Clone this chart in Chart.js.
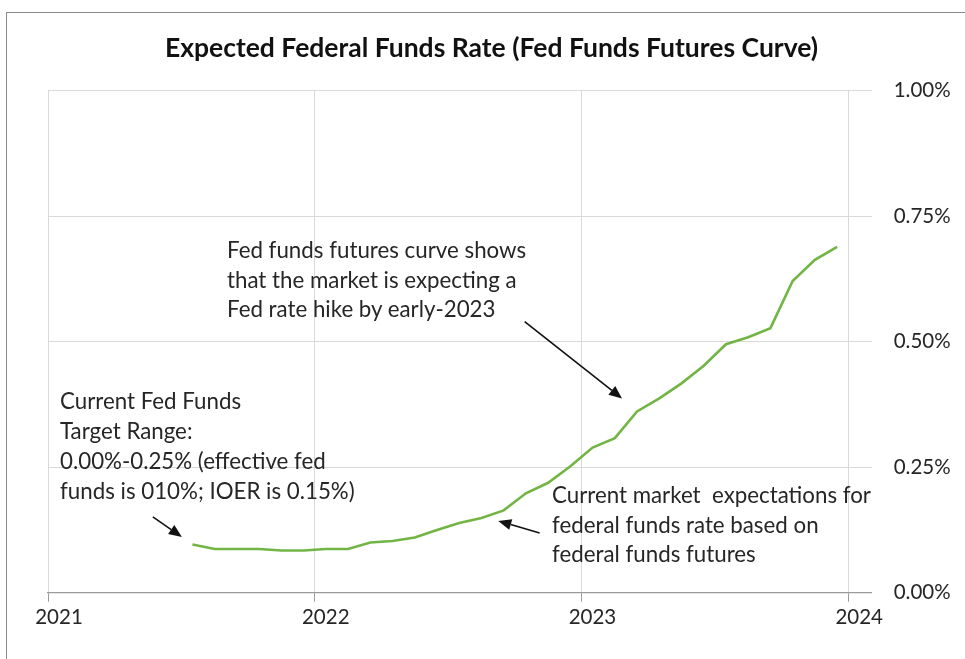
<!DOCTYPE html>
<html>
<head>
<meta charset="utf-8">
<script src="https://cdn.jsdelivr.net/npm/chart.js@4/dist/chart.umd.min.js"></script>
<style>
  html, body { margin: 0; padding: 0; background: #fff; overflow: hidden; width: 965px; height: 659px; }
  #wrap { position: relative; width: 965px; height: 659px; overflow: hidden; }
  #frame { position: absolute; left: 6px; top: 12px; width: 1300px; height: 1000px;
           border-left: 1.5px solid #8a8a8a; border-top: 1.5px solid #8a8a8a; }
  #c { position: absolute; left: 0; top: 0; }
  .t { position: absolute; font-family: Lato, "Open Sans", sans-serif; color: #262626; white-space: nowrap; }
  #title { left: 0; width: 983px; text-align: center; top: 29px; font-size: 26.5px; font-weight: 700; color: #111; line-height: 36px; }
  .note { font-size: 22.3px; line-height: 29.5px; }
</style>
</head>
<body>
<div id="wrap">
  <div id="frame"></div>
  <canvas id="c" width="965" height="659"></canvas>
  <div class="t" id="title">Expected Federal Funds Rate (Fed Funds Futures Curve)</div>
  <div class="t note" style="left:60px; top:386px; line-height:30px;">Current Fed Funds<br>Target Range:<br>0.00%-0.25% (effective fed<br>funds is 010%; IOER is 0.15%)</div>
  <div class="t note" style="left:552px; top:480px;">Current market&nbsp; expectations for<br>federal funds rate based on<br>federal funds futures</div>
  <div class="t note" style="left:227px; top:235px;">Fed funds futures curve shows<br>that the market is expecting a<br>Fed rate hike by early-2023</div>
</div>
<script>
// ---- data ----
const months = [
  '2021-07','2021-08','2021-09','2021-10','2021-11','2021-12',
  '2022-01','2022-02','2022-03','2022-04','2022-05','2022-06',
  '2022-07','2022-08','2022-09','2022-10','2022-11','2022-12',
  '2023-01','2023-02','2023-03','2023-04','2023-05','2023-06',
  '2023-07','2023-08','2023-09','2023-10','2023-11','2023-12'
];
const expectedRate = [
  0.096, 0.087, 0.087, 0.087, 0.084, 0.084,
  0.087, 0.087, 0.100, 0.103, 0.110, 0.125,
  0.139, 0.149, 0.164, 0.198, 0.219, 0.252,
  0.289, 0.308, 0.361, 0.387, 0.417, 0.452,
  0.495, 0.509, 0.527, 0.621, 0.663, 0.689
];
const yearTicks = [2021, 2022, 2023, 2024];
const rateTicks = [0, 0.25, 0.5, 0.75, 1.0];

// annotation arrows, given in data coordinates (year, %)
const arrows = [
  { from: [2021.393, 0.151], to: [2021.502, 0.111] },
  { from: [2022.843, 0.119], to: [2022.688, 0.143] },
  { from: [2022.787, 0.540], to: [2023.152, 0.387] }
];

function toYear(m) {
  const [y, mo] = m.split('-').map(Number);
  return y + (mo - 0.5) / 12;
}

const arrowPlugin = {
  id: 'arrows',
  afterDatasetsDraw(chart) {
    const { ctx, scales: { x, y } } = chart;
    ctx.save();
    ctx.strokeStyle = '#111';
    ctx.fillStyle = '#111';
    ctx.lineWidth = 1.6;
    arrows.forEach(a => {
      const x1 = x.getPixelForValue(a.from[0]), y1 = y.getPixelForValue(a.from[1]);
      const x2 = x.getPixelForValue(a.to[0]), y2 = y.getPixelForValue(a.to[1]);
      const ang = Math.atan2(y2 - y1, x2 - x1);
      const L = 13, W = 5.5;
      const bx = x2 - L * Math.cos(ang), by = y2 - L * Math.sin(ang);
      ctx.beginPath();
      ctx.moveTo(x1, y1);
      ctx.lineTo(bx, by);
      ctx.stroke();
      ctx.beginPath();
      ctx.moveTo(x2, y2);
      ctx.lineTo(bx + W * Math.sin(ang), by - W * Math.cos(ang));
      ctx.lineTo(bx - W * Math.sin(ang), by + W * Math.cos(ang));
      ctx.closePath();
      ctx.fill();
    });
    ctx.restore();
  }
};

const tickFont = { family: 'Lato, "Open Sans", sans-serif', size: 20.5 };

new Chart(document.getElementById('c'), {
  type: 'line',
  data: {
    datasets: [{
      label: 'Expected fed funds rate',
      data: months.map((m, i) => ({ x: toYear(m), y: expectedRate[i] })),
      borderColor: '#72b544',
      borderWidth: 2.6,
      pointRadius: 0,
      tension: 0,
      fill: false
    }]
  },
  options: {
    responsive: false,
    animation: false,
    devicePixelRatio: 1,
    layout: { padding: { left: 48, top: 90.7, right: 0, bottom: 0 } },
    plugins: { legend: { display: false }, title: { display: false }, tooltip: { enabled: false } },
    scales: {
      x: {
        type: 'linear',
        min: 2021,
        max: 2024.088,
        afterBuildTicks: s => { s.ticks = yearTicks.map(v => ({ value: v })); },
        afterFit: s => { s.height = 66.3; },
        ticks: {
          callback: v => String(v),
          font: tickFont,
          color: '#262626',
          labelOffset: 11,
          padding: 3,
          maxRotation: 0,
          autoSkip: false
        },
        grid: { color: '#d9d9d9', lineWidth: 1, drawTicks: true, tickLength: 9, tickColor: '#9a9a9a' },
        border: { display: true, color: '#9a9a9a', width: 1.3 }
      },
      y: {
        position: 'right',
        min: 0,
        max: 1,
        afterBuildTicks: s => { s.ticks = rateTicks.map(v => ({ value: v })); },
        afterFit: s => { s.width = 93.3; },
        ticks: {
          callback: v => v.toFixed(2) + '%',
          font: tickFont,
          color: '#262626',
          padding: 22
        },
        grid: { color: '#d9d9d9', lineWidth: 1, drawTicks: false },
        border: { display: false }
      }
    }
  },
  plugins: [arrowPlugin]
});
</script>
</body>
</html>
